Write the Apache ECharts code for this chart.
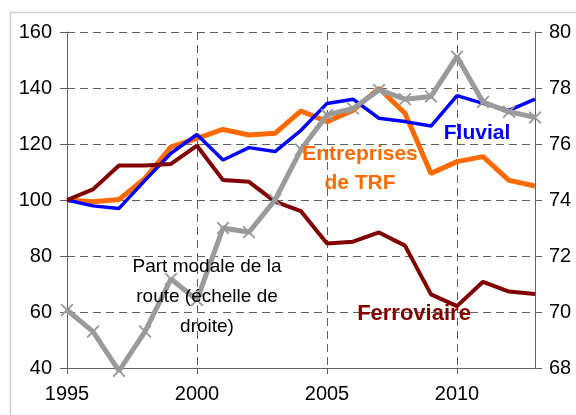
<!DOCTYPE html>
<html lang="fr" style="height: 100%">

<head>
    <meta charset="utf-8">
    <script type="text/javascript" src="https://cdn.jsdelivr.net/npm/echarts@6/dist/echarts.min.js"></script>
</head>

<body style="height: 100%; margin: 0; background: #fff">
    <div id="container" style="width: 576px; height: 415px"></div>
    <script type="text/javascript">
        var years = [1995, 1996, 1997, 1998, 1999, 2000, 2001, 2002, 2003, 2004,
            2005, 2006, 2007, 2008, 2009, 2010, 2011, 2012, 2013];
        var yearTicks = [1995, 2000, 2005, 2010];
        var fluvial = [100, 97.9, 97, 107, 116.7, 123.4, 114.3, 118.7, 117.3, 124.9,
            134.5, 136, 129.2, 128, 126.4, 137.3, 134.5, 132, 136];
        var trf = [100, 99.4, 100.2, 107.7, 119, 122, 125.2, 123.2, 123.8, 131.8,
            128, 132, 139.9, 131, 109.5, 113.7, 115.5, 107, 105];
        var ferroviaire = [100, 103.8, 112.3, 112.3, 112.9, 119.4, 107.1, 106.5, 99.4, 96,
            84.5, 85.1, 88.4, 83.7, 66.3, 62.1, 70.8, 67.3, 66.4];
        // part modale de la route, echelle de droite (%)
        var partRoute = [70.07, 69.3, 67.9, 69.3, 71.18, 70.43, 73, 72.85, 74, 75.8,
            77.04, 77.27, 77.93, 77.6, 77.7, 79.12, 77.5, 77.15, 76.95];

        function pairs(vals) {
            return years.map(function (y, i) { return [y, vals[i]]; });
        }

        var font = 'Liberation Sans, Arial, sans-serif';
        var gridLine = { lineStyle: { color: '#606060', type: [8, 5], width: 1 } };
        var crossSymbol = 'path://M0,1L1,0L5,4L9,0L10,1L6,5L10,9L9,10L5,6L1,10L0,9L4,5Z';

        var dom = document.getElementById('container');
        var chart = echarts.init(dom, null, { renderer: 'canvas' });

        var option = {
            animation: false,
            backgroundColor: '#fff',
            grid: { left: 67, right: 41, top: 32, bottom: 47 },
            xAxis: {
                type: 'value',
                min: 1995,
                max: 2013,
                interval: 5,
                axisLine: { lineStyle: { color: '#606060', width: 1 } },
                axisTick: { length: 6, customValues: yearTicks, lineStyle: { color: '#606060' } },
                axisLabel: {
                    color: '#000', fontSize: 20, fontFamily: font, margin: 16,
                    customValues: yearTicks,
                    formatter: function (v) { return String(v); }
                },
                splitLine: gridLine
            },
            yAxis: [
                {
                    type: 'value',
                    min: 40,
                    max: 160,
                    interval: 20,
                    axisLine: { show: true, lineStyle: { color: '#606060', width: 1 } },
                    axisTick: { show: true, length: 7, lineStyle: { color: '#606060' } },
                    axisLabel: { color: '#000', fontSize: 20, fontFamily: font, margin: 15 },
                    splitLine: gridLine
                },
                {
                    type: 'value',
                    min: 68,
                    max: 80,
                    interval: 2,
                    position: 'right',
                    axisLine: { show: true, lineStyle: { color: '#606060', width: 1 } },
                    axisTick: { show: true, length: 7, lineStyle: { color: '#606060' } },
                    axisLabel: { color: '#000', fontSize: 20, fontFamily: font, margin: 14 },
                    splitLine: { show: false }
                }
            ],
            series: [
                {
                    name: 'Entreprises de TRF',
                    type: 'line',
                    data: pairs(trf),
                    showSymbol: false,
                    lineStyle: { color: '#FF6A00', width: 5 }
                },
                {
                    name: 'Fluvial',
                    type: 'line',
                    data: pairs(fluvial),
                    showSymbol: false,
                    lineStyle: { color: '#0000FF', width: 3.5 }
                },
                {
                    name: 'Ferroviaire',
                    type: 'line',
                    data: pairs(ferroviaire),
                    showSymbol: false,
                    lineStyle: { color: '#800000', width: 4 }
                },
                {
                    name: 'Part modale de la route',
                    type: 'line',
                    yAxisIndex: 1,
                    data: pairs(partRoute),
                    clip: false,
                    symbol: crossSymbol,
                    symbolSize: 13,
                    itemStyle: { color: '#9A9A9A' },
                    lineStyle: { color: '#9A9A9A', width: 5 }
                }
            ],
            graphic: [
                {
                    type: 'rect',
                    shape: { x: 10.5, y: 12.5, width: 700, height: 600 },
                    style: { fill: 'none', stroke: '#cfcfcf', lineWidth: 1.5 },
                    silent: true
                },
                {
                    type: 'text', x: 477, y: 133, z: 100,
                    style: { text: 'Fluvial', fill: '#0000FF', font: 'bold 21px ' + font, align: 'center', verticalAlign: 'middle' }
                },
                {
                    type: 'text', x: 360, y: 169, z: 100,
                    style: {
                        text: 'Entreprises\nde TRF', fill: '#FF6A00', font: 'bold 21px ' + font,
                        lineHeight: 29, align: 'center', verticalAlign: 'middle'
                    }
                },
                {
                    type: 'text', x: 414, y: 314, z: 100,
                    style: { text: 'Ferroviaire', fill: '#800000', font: 'bold 22px ' + font, align: 'center', verticalAlign: 'middle' }
                },
                {
                    type: 'text', x: 207, y: 297, z: 100,
                    style: {
                        text: 'Part modale de la\nroute (échelle de\ndroite)',
                        fill: '#000', font: '19px ' + font, lineHeight: 30, align: 'center', verticalAlign: 'middle'
                    }
                }
            ]
        };
        chart.setOption(option);
    </script>
</body>

</html>
